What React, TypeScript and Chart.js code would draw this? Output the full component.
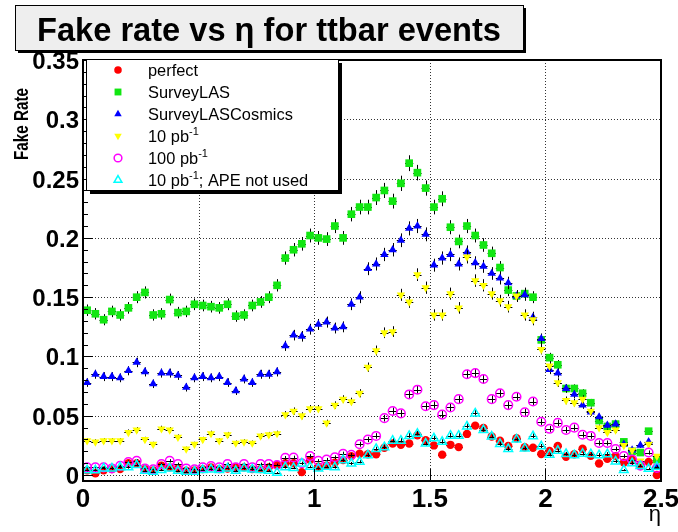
import { useEffect, useRef } from "react";
import { Chart, registerables } from "chart.js";
import { drawPoint } from "chart.js/helpers";

Chart.register(...registerables);

// ---- binning -------------------------------------------------------------
const ETA_MIN = 0;
const ETA_MAX = 2.5;
const N_BINS = 70;
const BIN_WIDTH = (ETA_MAX - ETA_MIN) / N_BINS;
const etaCentres = Array.from({ length: N_BINS }, (_, i) => ETA_MIN + (i + 0.5) * BIN_WIDTH);

// ---- fake rate per eta bin ---------------------------------------------------
const perfect = [
  0.004, 0.0015, 0.004, 0.005, 0.005, 0.01, 0.01, 0.005, 0.004, 0.008,
  0.0065, 0.0056, 0.0036, 0.004, 0.005, 0.0065, 0.005, 0.0056, 0.0065, 0.0065,
  0.005, 0.005, 0.0065, 0.0084, 0.01, 0.01, 0.0025, 0.0126, 0.007, 0.008,
  0.0105, 0.0126, 0.016, 0.018, 0.0175, 0.0176, 0.023, 0.0266, 0.0255, 0.0266,
  0.0335, 0.0294, 0.025, 0.0172, 0.0255, 0.0236, 0.0347, 0.0417, 0.0398, 0.0325,
  0.029, 0.0245, 0.031, 0.0234, 0.023, 0.0178, 0.0204, 0.0245, 0.0155, 0.0176,
  0.0222, 0.0162, 0.0098, 0.0137, 0.016, 0.0105, 0.013, 0.008, 0.011, 0.0,
];

const surveyLAS = [
  0.139, 0.136, 0.131, 0.138, 0.135, 0.141, 0.15, 0.154, 0.135, 0.136,
  0.148, 0.137, 0.138, 0.144, 0.143, 0.142, 0.141, 0.144, 0.134, 0.135,
  0.143, 0.146, 0.15, 0.16, 0.183, 0.19, 0.195, 0.202, 0.2, 0.199,
  0.21, 0.2, 0.22, 0.226, 0.226, 0.234, 0.24, 0.231, 0.246, 0.263,
  0.255, 0.242, 0.226, 0.233, 0.209, 0.197, 0.21, 0.202, 0.194, 0.187,
  0.175, 0.156, 0.151, 0.153, 0.15, 0.114, 0.099, 0.093, 0.073, 0.073,
  0.069, 0.061, 0.046, 0.041, 0.043, 0.028, 0.02, 0.019, 0.037, 0.013,
];

const surveyLASCosmics = [
  0.078, 0.085, 0.083, 0.083, 0.082, 0.088, 0.095, 0.087, 0.077, 0.086,
  0.086, 0.084, 0.074, 0.082, 0.083, 0.082, 0.083, 0.078, 0.071, 0.081,
  0.078, 0.085, 0.085, 0.087, 0.109, 0.118, 0.117, 0.123, 0.127, 0.129,
  0.124, 0.125, 0.144, 0.15, 0.174, 0.178, 0.186, 0.19, 0.198, 0.208,
  0.21, 0.203, 0.177, 0.183, 0.186, 0.178, 0.188, 0.179, 0.176, 0.17,
  0.166, 0.162, 0.151, 0.152, 0.133, 0.115, 0.089, 0.086, 0.073, 0.068,
  0.059, 0.053, 0.049, 0.042, 0.043, 0.026, 0.021, 0.025, 0.028, 0.008,
];

const lumi10pb = [
  0.029, 0.028, 0.029, 0.029, 0.029, 0.036, 0.038, 0.03, 0.026, 0.039,
  0.038, 0.032, 0.022, 0.026, 0.03, 0.035, 0.029, 0.034, 0.027, 0.028,
  0.027, 0.033, 0.034, 0.035, 0.051, 0.054, 0.05, 0.056, 0.056, 0.044,
  0.059, 0.064, 0.062, 0.069, 0.091, 0.105, 0.12, 0.121, 0.152, 0.146,
  0.169, 0.158, 0.135, 0.135, 0.153, 0.141, 0.184, 0.164, 0.16, 0.153,
  0.147, 0.142, 0.151, 0.135, 0.131, 0.106, 0.092, 0.078, 0.063, 0.061,
  0.064, 0.054, 0.04, 0.036, 0.038, 0.025, 0.021, 0.012, 0.026, 0.016,
];

const lumi100pb = [
  0.0065, 0.0065, 0.0065, 0.0056, 0.0078, 0.011, 0.012, 0.0056, 0.0048, 0.0092,
  0.012, 0.0092, 0.0056, 0.0048, 0.0065, 0.0076, 0.0065, 0.0092, 0.0065, 0.0092,
  0.0065, 0.0092, 0.0092, 0.0085, 0.0145, 0.0148, 0.01, 0.016, 0.012, 0.013,
  0.015, 0.018, 0.017, 0.026, 0.03, 0.033, 0.048, 0.054, 0.052, 0.068,
  0.072, 0.058, 0.059, 0.051, 0.057, 0.064, 0.085, 0.086, 0.081, 0.064,
  0.069, 0.059, 0.066, 0.053, 0.062, 0.045, 0.039, 0.044, 0.038, 0.04,
  0.034, 0.033, 0.027, 0.027, 0.022, 0.016, 0.013, 0.008, 0.019, 0.006,
];

const lumi10pbNoAPE = [
  0.004, 0.004, 0.0056, 0.0056, 0.0065, 0.0065, 0.0084, 0.0036, 0.0028, 0.0042,
  0.0056, 0.0036, 0.0028, 0.0028, 0.0042, 0.0048, 0.0042, 0.0056, 0.0036, 0.0056,
  0.0048, 0.0042, 0.0036, 0.002, 0.0065, 0.006, 0.0098, 0.007, 0.0056, 0.007,
  0.0065, 0.0126, 0.0098, 0.0112, 0.0168, 0.022, 0.0235, 0.029, 0.029, 0.033,
  0.0348, 0.0266, 0.031, 0.028, 0.0332, 0.0332, 0.041, 0.052, 0.038, 0.0325,
  0.0263, 0.022, 0.03, 0.0225, 0.0328, 0.0242, 0.0172, 0.0206, 0.0178, 0.0168,
  0.018, 0.0176, 0.0168, 0.0176, 0.0115, 0.0042, 0.01, 0.0077, 0.0053, 0.007,
];

// ---- axes and labels -------------------------------------------------------------
const xTicks = [0, 0.5, 1, 1.5, 2, 2.5];
const xTickLabels = ["0", "0.5", "1", "1.5", "2", "2.5"];
const yTicks = [0, 0.05, 0.1, 0.15, 0.2, 0.25, 0.3, 0.35];
const yTickLabels = ["0", "0.05", "0.1", "0.15", "0.2", "0.25", "0.3", "0.35"];
const yMinorTicks = Array.from({ length: 35 }, (_, i) => (i + 1) / 100);
const Y_MIN = -0.005;
const Y_MAX = 0.35;

const titleText = "Fake rate vs \u03b7 for ttbar events";
const yTitle = "Fake Rate";
const xTitle = "\u03b7";

// statistical uncertainty scale used for the vertical error bars
const ERR_K = 0.013;

type Series = {
  label: string;
  values: number[];
  color: string;
  style: "circle" | "rect" | "triangle";
  rotation: number;
  radius: number;
  filled: boolean;
};

const series: Series[] = [
  { label: "perfect", values: perfect, color: "#ff0000", style: "circle", rotation: 0, radius: 4.2, filled: true },
  { label: "SurveyLAS", values: surveyLAS, color: "#11e611", style: "rect", rotation: 0, radius: 5.4, filled: true },
  { label: "SurveyLASCosmics", values: surveyLASCosmics, color: "#0000ff", style: "triangle", rotation: 0, radius: 4.8, filled: true },
  { label: "10 pb^{-1}", values: lumi10pb, color: "#ffff00", style: "triangle", rotation: 180, radius: 4.8, filled: true },
  { label: "100 pb^{-1}", values: lumi100pb, color: "#ff00ff", style: "circle", rotation: 0, radius: 4.3, filled: false },
  { label: "10 pb^{-1}; APE not used", values: lumi10pbNoAPE, color: "#00ffff", style: "triangle", rotation: 0, radius: 5, filled: false },
];

const FONT = '"Liberation Sans", Arial, Helvetica, sans-serif';

// text with a horizontal squeeze factor (condensed ROOT style fonts)
function drawSqueezed(
  ctx: CanvasRenderingContext2D,
  text: string,
  x: number,
  y: number,
  font: string,
  targetWidth: number,
  align: "left" | "center" | "right"
) {
  ctx.save();
  ctx.font = font;
  const w = ctx.measureText(text).width;
  const s = targetWidth / w;
  ctx.translate(x, y);
  ctx.scale(s, 1);
  ctx.textAlign = align;
  ctx.textBaseline = "alphabetic";
  ctx.fillText(text, 0, 0);
  ctx.restore();
}

// legend label with ^{...} superscripts
function drawRichText(ctx: CanvasRenderingContext2D, text: string, x: number, y: number) {
  const parts = text.split(/(\^\{[^}]*\})/).filter((p) => p.length > 0);
  let cx = x;
  for (const p of parts) {
    const sup = p.startsWith("^{");
    const t = sup ? p.slice(2, -1) : p;
    ctx.font = sup ? `11px ${FONT}` : `16.4px ${FONT}`;
    ctx.fillText(t, cx, sup ? y - 7 : y);
    cx += ctx.measureText(t).width;
  }
}

const rootStyle = {
  id: "rootStyle",
  beforeDatasetsDraw(chart: any) {
    const { ctx, chartArea: a, scales } = chart;
    const xs = scales.x;
    const ys = scales.y;
    ctx.save();
    ctx.strokeStyle = "#333";
    ctx.lineWidth = 1;
    ctx.setLineDash([1, 2]);
    for (const t of xTicks) {
      const px = Math.round(xs.getPixelForValue(t)) + 0.5;
      if (px <= a.left + 1 || px >= a.right - 1) continue;
      ctx.beginPath();
      ctx.moveTo(px, a.top);
      ctx.lineTo(px, a.bottom);
      ctx.stroke();
    }
    for (const t of yTicks) {
      const py = Math.round(ys.getPixelForValue(t)) + 0.5;
      if (py <= a.top + 1 || py >= a.bottom - 1) continue;
      ctx.beginPath();
      ctx.moveTo(a.left, py);
      ctx.lineTo(a.right, py);
      ctx.stroke();
    }
    ctx.restore();
  },
  beforeDatasetDraw(chart: any, args: any) {
    const s = series[args.index];
    if (!s) return;
    const { ctx, chartArea: a, scales } = chart;
    const xs = scales.x;
    const ys = scales.y;
    ctx.save();
    ctx.beginPath();
    ctx.rect(a.left, a.top, a.right - a.left, a.bottom - a.top);
    ctx.clip();
    ctx.strokeStyle = "#000";
    ctx.lineWidth = 1;
    ctx.beginPath();
    s.values.forEach((v, i) => {
      const eta = etaCentres[i];
      const err = ERR_K * Math.sqrt(Math.max(v, 0));
      const px = Math.round(xs.getPixelForValue(eta)) + 0.5;
      const py = Math.round(ys.getPixelForValue(v)) + 0.5;
      ctx.moveTo(px, ys.getPixelForValue(v + err));
      ctx.lineTo(px, ys.getPixelForValue(v - err));
      ctx.moveTo(xs.getPixelForValue(eta - BIN_WIDTH / 2), py);
      ctx.lineTo(xs.getPixelForValue(eta + BIN_WIDTH / 2), py);
    });
    ctx.stroke();
    ctx.restore();
  },
  afterDatasetsDraw(chart: any) {
    const { ctx, chartArea: a, scales } = chart;
    const xs = scales.x;
    const ys = scales.y;
    ctx.save();

    // frame
    ctx.strokeStyle = "#000";
    ctx.lineWidth = 2;
    ctx.strokeRect(a.left, a.top, a.right - a.left, a.bottom - a.top);

    // ticks
    ctx.lineWidth = 1;
    ctx.beginPath();
    for (const t of yTicks) {
      const py = Math.round(ys.getPixelForValue(t)) + 0.5;
      ctx.moveTo(a.left, py);
      ctx.lineTo(a.left + 10, py);
    }
    for (const t of yMinorTicks) {
      const py = Math.round(ys.getPixelForValue(t)) + 0.5;
      ctx.moveTo(a.left, py);
      ctx.lineTo(a.left + 5, py);
    }
    for (const t of xTicks) {
      const px = Math.round(xs.getPixelForValue(t)) + 0.5;
      ctx.moveTo(px, a.bottom);
      ctx.lineTo(px, a.bottom - 12);
    }
    ctx.stroke();

    // tick labels
    ctx.fillStyle = "#000";
    ctx.font = `bold 24px ${FONT}`;
    ctx.textAlign = "right";
    ctx.textBaseline = "alphabetic";
    yTicks.forEach((t, i) => {
      const py = ys.getPixelForValue(t);
      ctx.fillText(yTickLabels[i], a.left - 4, py + 9);
    });
    ctx.font = `bold 26px ${FONT}`;
    ctx.textAlign = "center";
    xTicks.forEach((t, i) => {
      const px = xs.getPixelForValue(t);
      ctx.fillText(xTickLabels[i], px, a.bottom + 26);
    });

    // axis titles
    ctx.save();
    ctx.translate(28, 88);
    ctx.rotate(-Math.PI / 2);
    drawSqueezed(ctx, yTitle, 0, 0, `bold 20px ${FONT}`, 72, "right");
    ctx.restore();
    ctx.font = `22px ${FONT}`;
    ctx.textAlign = "right";
    ctx.fillText(xTitle, a.right, 521);

    // legend
    const lx = 86, ly = 59, lw = 252, lh = 131;
    ctx.fillStyle = "#000";
    ctx.fillRect(lx + 4, ly + 4, lw, lh);
    ctx.fillStyle = "#fff";
    ctx.fillRect(lx, ly, lw, lh);
    ctx.strokeStyle = "#000";
    ctx.lineWidth = 1;
    ctx.strokeRect(lx + 0.5, ly + 0.5, lw, lh);
    const rowY = [70, 92, 114, 136, 158, 180];
    series.forEach((s, i) => {
      ctx.save();
      ctx.fillStyle = s.filled ? s.color : "rgba(0,0,0,0)";
      ctx.strokeStyle = s.color;
      ctx.lineWidth = s.filled ? 0 : 1.5;
      drawPoint(ctx, { pointStyle: s.style, rotation: s.rotation, radius: s.radius * 0.9, borderWidth: s.filled ? 0 : 1.5 } as any, 118, rowY[i]);
      ctx.restore();
      ctx.fillStyle = "#000";
      ctx.textAlign = "left";
      drawRichText(ctx, s.label, 148, rowY[i] + 6);
    });

    // title box
    const tx = 15, ty = 5, tw = 508, th = 45;
    ctx.fillStyle = "#000";
    ctx.fillRect(tx + 3, ty + 3, tw, th);
    ctx.fillStyle = "#eeeeee";
    ctx.fillRect(tx, ty, tw, th);
    ctx.strokeStyle = "#000";
    ctx.lineWidth = 1;
    ctx.strokeRect(tx + 0.5, ty + 0.5, tw, th);
    ctx.fillStyle = "#000";
    drawSqueezed(ctx, titleText, tx + tw / 2, 41, `bold 34px ${FONT}`, 464, "center");

    ctx.restore();
  },
};

export default function App() {
  const ref = useRef<HTMLCanvasElement>(null);
  useEffect(() => {
    if (!ref.current) return;
    const chart = new Chart(ref.current, {
      type: "scatter",
      data: {
        datasets: series.map((s, i) => ({
          label: s.label,
          data: s.values.map((v, j) => ({ x: etaCentres[j], y: v })),
          pointStyle: s.style,
          pointRotation: s.rotation,
          pointRadius: s.radius,
          pointBackgroundColor: s.filled ? s.color : "rgba(0,0,0,0)",
          pointBorderColor: s.color,
          pointBorderWidth: s.filled ? 0 : 1.5,
          showLine: false,
          order: series.length - i,
        })),
      },
      options: {
        responsive: false,
        animation: false,
        events: [],
        layout: { padding: { left: 83, right: 17, top: 60, bottom: 51 } },
        plugins: { legend: { display: false }, tooltip: { enabled: false }, title: { display: false } },
        scales: {
          x: { type: "linear", min: ETA_MIN, max: ETA_MAX, display: false },
          y: { type: "linear", min: Y_MIN, max: Y_MAX, display: false },
        },
      },
      plugins: [rootStyle],
    });
    return () => chart.destroy();
  }, []);
  return (
    <div style={{ position: "fixed", left: 0, top: 0, width: 678, height: 532, background: "#fff" }}>
      <canvas ref={ref} width={678} height={532} style={{ display: "block", width: 678, height: 532 }} />
    </div>
  );
}
